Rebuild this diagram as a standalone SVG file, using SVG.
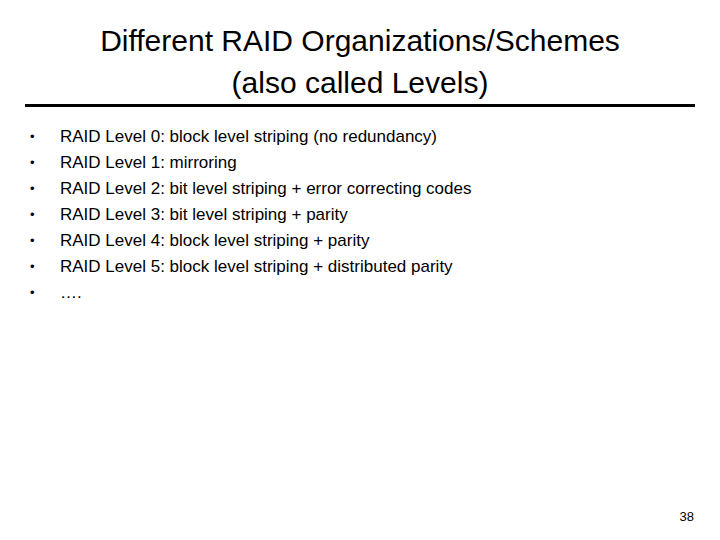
<svg xmlns="http://www.w3.org/2000/svg" width="720" height="540" viewBox="0 0 720 540">
<style>
text{font-family:"Liberation Sans",Arial,sans-serif;fill:#000}
.t{font-size:30px;text-anchor:middle}
.b{font-size:17px}
.d{font-size:13px}
</style>
<rect width="720" height="540" fill="#fff"/>
<text class="t" x="360" y="51">Different RAID Organizations/Schemes</text>
<text class="t" x="360" y="93">(also called Levels)</text>
<rect x="25" y="104" width="670" height="3" fill="#000"/>
<g class="d">
<text x="30" y="141">•</text><text x="30" y="167">•</text><text x="30" y="193">•</text><text x="30" y="219">•</text><text x="30" y="245">•</text><text x="30" y="271">•</text><text x="30" y="297">•</text>
</g>
<g class="b">
<text x="60" y="142">RAID Level 0: block level striping (no redundancy)</text>
<text x="60" y="168">RAID Level 1: mirroring</text>
<text x="60" y="194">RAID Level 2: bit level striping + error correcting codes</text>
<text x="60" y="220">RAID Level 3: bit level striping + parity</text>
<text x="60" y="246">RAID Level 4: block level striping + parity</text>
<text x="60" y="272">RAID Level 5: block level striping + distributed parity</text>
<text x="60" y="298">….</text>
</g>
<text class="d" x="694" y="521" text-anchor="end">38</text>
</svg>
